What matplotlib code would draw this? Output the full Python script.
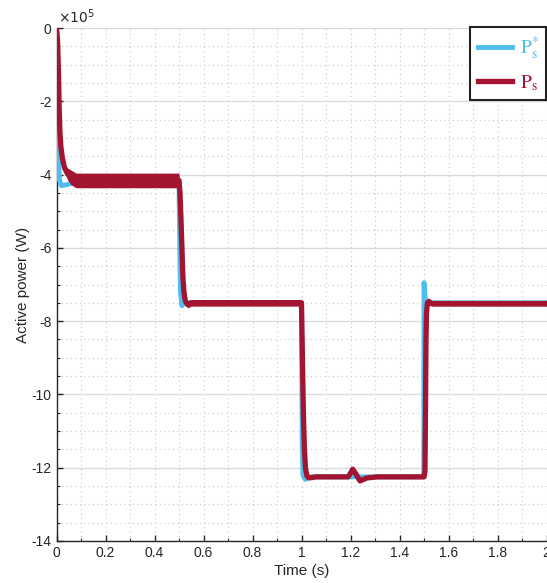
import matplotlib
matplotlib.use("Agg")
import matplotlib.pyplot as plt
from matplotlib.ticker import MultipleLocator, FuncFormatter
from matplotlib.font_manager import FontProperties
import numpy as np

# values in units of 1e5 W
t_ref = [0, 0.002, 0.005, 0.008, 0.012, 0.02, 0.04, 0.07, 0.5, 0.502, 0.506, 0.512, 0.52,
         1.0, 1.003, 1.006, 1.015, 1.03, 1.499, 1.5, 1.503, 1.506, 2.0]
p_ref = [0, -1.0, -2.5, -3.6, -4.15, -4.3, -4.28, -4.22, -4.2, -5.5, -7.2, -7.58, -7.5,
         -7.5, -11.5, -12.2, -12.32, -12.25, -12.25, -6.95, -7.2, -7.5, -7.5]

t_ps = [0, 0.004, 0.008, 0.011, 0.014, 0.018, 0.024, 0.032, 0.045, 0.06, 0.08, 0.5,
        0.504, 0.508, 0.512, 0.516, 0.52, 0.526, 0.535, 0.55,
        1.0, 1.002, 1.005, 1.008, 1.012, 1.016, 1.022, 1.03, 1.06,
        1.19, 1.2, 1.209, 1.22, 1.239, 1.25, 1.266, 1.31,
        1.5, 1.504, 1.506, 1.508, 1.51, 1.514, 1.52, 1.53, 2.0]
p_ps = [0, -0.3, -1.2, -2.2, -2.85, -3.25, -3.55, -3.8, -3.98, -4.08, -4.16, -4.16,
        -4.5, -5.2, -6.0, -6.8, -7.2, -7.45, -7.55, -7.5,
        -7.5, -8.3, -9.5, -10.6, -11.5, -12.0, -12.22, -12.28, -12.25,
        -12.25, -12.15, -12.04, -12.15, -12.36, -12.33, -12.28, -12.25,
        -12.25, -12.1, -10.5, -8.6, -7.8, -7.5, -7.46, -7.52, -7.52]
# half width of the ripple band around Ps
rip_ps = [0, 0, 0, 0, 0, 0, 0.04, 0.1, 0.16, 0.2, 0.2, 0.2,
          0, 0, 0, 0, 0, 0.03, 0.09, 0.09,
          0.09, 0, 0, 0, 0, 0, 0, 0, 0,
          0, 0, 0, 0, 0, 0, 0, 0,
          0, 0, 0, 0, 0, 0, 0.06, 0.07, 0.07]

blue = "#4DBEEE"
red = "#A2142F"
txt = "#262626"

plt.rcParams['font.family'] = ['Liberation Sans', 'DejaVu Sans']

fig = plt.figure(figsize=(5.47, 5.83), dpi=100)
ax = fig.add_axes([56.5 / 547, 42 / 583, 490 / 547, 513 / 583])

tp = np.array(t_ps)
pp = np.array(p_ps)
rp = np.array(rip_ps)

ax.plot(t_ref, p_ref, color=blue, lw=3.5, label=r'$\mathrm{P}_\mathrm{s}^{*}$', zorder=3)
ax.fill_between(tp, pp - rp, pp + rp, color=red, lw=0, zorder=4)
ax.plot(tp, pp, color=red, lw=3.8, label=r'$\mathrm{P}_\mathrm{s}$', zorder=4)

ax.set_xlim(0, 2)
ax.set_ylim(-14, 0)
ax.xaxis.set_major_locator(MultipleLocator(0.2))
ax.xaxis.set_minor_locator(MultipleLocator(0.1))
ax.yaxis.set_major_locator(MultipleLocator(2))
ax.yaxis.set_minor_locator(MultipleLocator(0.5))
fmt = FuncFormatter(lambda v, pos: "%g" % round(v, 6))
ax.xaxis.set_major_formatter(fmt)
ax.yaxis.set_major_formatter(fmt)

ax.grid(axis='y', which='major', color='#dcdcdc', lw=1.0, ls='-')
ax.grid(axis='y', which='minor', color='#c8c8c8', lw=0.8, ls=(0, (1, 3)))
ax.grid(axis='x', which='both', color='#c8c8c8', lw=0.8, ls=(0, (1, 3)))
ax.set_axisbelow(True)

for s in ['top', 'right']:
    ax.spines[s].set_visible(False)
for s in ['left', 'bottom']:
    ax.spines[s].set_color(txt)
    ax.spines[s].set_linewidth(1.0)

ax.tick_params(which='major', direction='in', length=4, width=1.0, color=txt,
               labelcolor=txt, labelsize=10)
ax.tick_params(which='minor', direction='in', length=2, width=0.8, color=txt)

ax.set_xlabel("Time (s)", fontsize=11, color=txt, labelpad=3)
ax.set_ylabel("Active power (W)", fontsize=11, color=txt, labelpad=1)

ax.text(0.004, 1.003, r'$\times10^{5}$', transform=ax.transAxes, fontsize=10,
        color=txt, ha='left', va='bottom')

leg = fig.legend(loc='upper left', bbox_to_anchor=(470 / 547, 1 - 27 / 583),
                 prop=FontProperties(family='Liberation Serif', size=14, math_fontfamily='stix'),
                 handlelength=1.75, handletextpad=0.4, labelspacing=0.55,
                 borderpad=0.4, borderaxespad=0, fancybox=False, framealpha=1,
                 edgecolor='#222222')
leg.get_frame().set_linewidth(1.5)
for text, c in zip(leg.get_texts(), [blue, red]):
    text.set_color(c)

fig.savefig("out.png", dpi=100)
